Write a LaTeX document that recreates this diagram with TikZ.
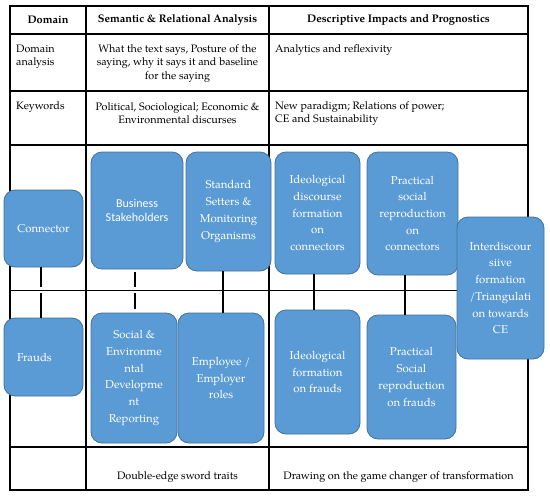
\documentclass[tikz,border=0pt]{standalone}
\usepackage{fontspec}
\setmainfont{TeX Gyre Pagella}
\newfontfamily\sansbox{Carlito}
\usetikzlibrary{calc}
\definecolor{boxfill}{HTML}{5B9BD5}
\definecolor{boxline}{HTML}{41719C}
\begin{document}
\begin{tikzpicture}[x=1pt,y=-1pt,
  gridline/.style={line width=1.1pt, black},
  bx/.style={draw=boxline, fill=boxfill, rounded corners=11pt, line width=0.8pt,
    text=white, align=center, inner sep=0pt,
    font=\fontsize{11.4}{16.7}\selectfont},
  tabtext/.style={inner sep=0pt, font=\fontsize{10.8}{13.3}\selectfont},
  headtext/.style={inner sep=0pt, font=\fontsize{11}{13.3}\selectfont\bfseries},
  link/.style={line width=1.1pt, black},
  brokenlink/.style={line width=1.1pt, black}]
\useasboundingbox (0,0) rectangle (550,496);
\fill[white] (0,0) rectangle (550,496);
% table grid
\draw[gridline] (10,6) rectangle (528,490);
\draw[gridline] (86,6) -- (86,490);
\draw[gridline] (269,6) -- (269,490);
\foreach \yy in {34,91,145,290.5,447}
  \draw[gridline] (10,\yy) -- (528,\yy);
% table texts
\node[headtext] (h1) at (48,20) {Domain};
\node[headtext] (h2) at (177.5,20) {Semantic \& Relational Analysis};
\node[headtext] (h3) at (398.5,20) {Descriptive Impacts and Prognostics};
\node[tabtext, anchor=west, align=left] (t1) at (16,56.5) {Domain\\analysis};
\node[tabtext, align=center] (t2) at (177.5,63.5) {What the text says, Posture of the\\saying, why it says it and baseline\\for the saying};
\node[tabtext, anchor=west] (t3) at (275,50) {Analytics and reflexivity};
\node[tabtext, anchor=west] (t4) at (16,107) {Keywords};
\node[tabtext, align=center] (t5) at (177.5,113.5) {Political, Sociological; Economic \&\\Environmental discurses};
\node[tabtext, anchor=west, align=left] (t6) at (275,113.5) {New paradigm; Relations of power;\\CE and Sustainability};
\node[tabtext] (t7) at (177.5,477) {Double-edge sword traits};
\node[tabtext] (t8) at (398.5,477) {Drawing on the game changer of transformation};
% boxes
\node[bx, minimum width=79pt, minimum height=77pt] (conn) at (43.5,228.5) {Connector};
\node[bx, minimum width=92pt, minimum height=117pt, font=\sansbox\fontsize{12}{14.5}\selectfont] (biz) at (137,210.5) {Business\\Stakeholders};
\node[bx, minimum width=85pt, minimum height=119pt] (std) at (228.5,211.5) {Standard\\Setters \&\\Monitoring\\Organisms};
\node[bx, minimum width=85pt, minimum height=122pt] (ideoc) at (317.5,213) {Ideological\\discourse\\formation\\on\\connectors};
\node[bx, minimum width=91pt, minimum height=123pt] (practc) at (412.5,213.5) {Practical\\social\\reproduction\\on\\connectors};
\node[bx, minimum width=79pt, minimum height=78pt, text width=53pt, inner xsep=13pt, align=left] (frauds) at (43.5,357) {Frauds};
\node[bx, minimum width=86pt, minimum height=130pt] (soc) at (134,378) {Social \&\\Environme\\ntal\\Developme\\nt\\Reporting};
\node[bx, minimum width=86pt, minimum height=130pt] (emp) at (221,378) {Employee /\\Employer\\roles};
\node[bx, minimum width=85pt, minimum height=124pt] (ideof) at (317.5,372) {Ideological\\formation\\on frauds};
\node[bx, minimum width=89pt, minimum height=124pt] (practf) at (411.5,377) {Practical\\Social\\reproduction\\on frauds};
\node[bx, minimum width=87pt, minimum height=142pt] (inter) at (500.5,288) {Interdiscour\\siive\\formation\\/Triangulati\\on towards\\CE};
% connectors
\draw[brokenlink, dash pattern=on 20pt off 6pt on 60pt] ([xshift=-2.5pt]conn.south) -- ([xshift=-2.5pt]conn.south |- frauds.north);
\draw[brokenlink, dash pattern=on 15pt off 6pt on 60pt, shorten <=3pt, shorten >=4pt] ([xshift=-2pt]biz.south) -- ([xshift=-2pt]biz.south |- soc.north);
\draw[link] ([xshift=-5.5pt]std.south) -- ([xshift=-5.5pt]std.south |- emp.north);
\draw[link] ([xshift=-3.5pt]ideoc.south) -- ([xshift=-3.5pt]ideoc.south |- ideof.north);
\draw[link] ([xshift=-7.5pt]practc.south) -- ([xshift=-7.5pt]practc.south |- practf.north);
\end{tikzpicture}
\end{document}
